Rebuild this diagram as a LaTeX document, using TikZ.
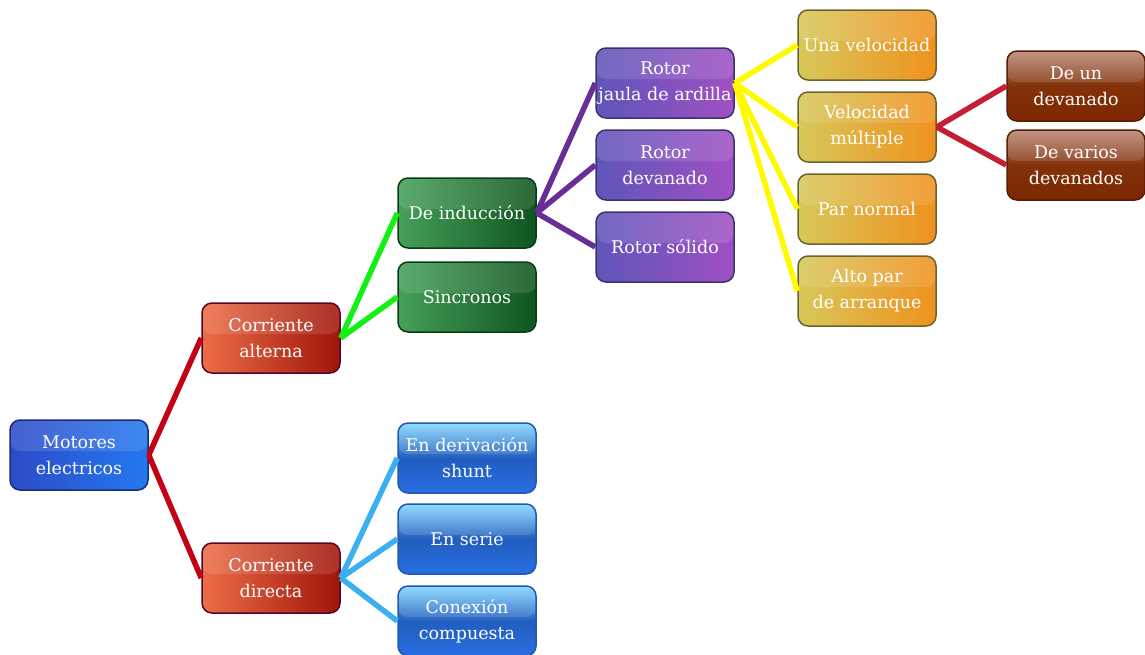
\documentclass[tikz,border=0pt]{standalone}
\usepackage{fontspec}
\setmainfont{DejaVu Serif}
\usepackage{xcolor}
\usetikzlibrary{calc}

\definecolor{rootL}{RGB}{45,75,200}
\definecolor{rootR}{RGB}{35,120,240}
\definecolor{acdcL}{RGB}{236,110,70}
\definecolor{acdcR}{RGB}{160,20,10}
\definecolor{greenL}{RGB}{70,160,90}
\definecolor{greenR}{RGB}{15,85,30}
\definecolor{skyT}{RGB}{130,215,255}
\definecolor{skyB}{RGB}{40,110,225}
\definecolor{violL}{RGB}{95,85,185}
\definecolor{violR}{RGB}{160,80,195}
\definecolor{goldL}{RGB}{215,200,90}
\definecolor{goldR}{RGB}{240,145,30}
\definecolor{brownT}{RGB}{185,135,115}
\definecolor{brownB}{RGB}{125,40,0}
\definecolor{lnroot}{RGB}{195,0,20}
\definecolor{lngreen}{RGB}{20,240,20}
\definecolor{lnsky}{RGB}{60,175,240}
\definecolor{lnviol}{RGB}{105,45,150}
\definecolor{lnyellow}{RGB}{255,250,0}
\definecolor{lncrim}{RGB}{195,30,50}

\begin{document}
\begin{tikzpicture}[x=1pt,y=-1pt,
    box/.style={rectangle,rounded corners=10pt,minimum width=138pt,minimum height=70pt,
                inner sep=1pt,align=center,text=white,line width=1.5pt,
                font=\fontsize{17.5}{26}\selectfont,
                path picture={\fill[white,opacity=0.12]
                  (path picture bounding box.north west) rectangle
                  ($(path picture bounding box.east)+(0,4pt)$);}},
    rootbox/.style={box,left color=rootL,right color=rootR,draw=rootL!60!black},
    acdcbox/.style={box,left color=acdcL,right color=acdcR,draw=acdcR!50!violet!60!black},
    greenbox/.style={box,left color=greenL,right color=greenR,draw=greenR!70!black},
    skybox/.style={box,top color=skyT,bottom color=skyB,middle color=skyB!85!black,draw=skyB!80!black},
    violbox/.style={box,left color=violL,right color=violR,draw=violL!60!black},
    goldbox/.style={box,left color=goldL,right color=goldR,draw=goldL!50!black},
    brownbox/.style={box,top color=brownT,bottom color=brownB,middle color=brownB!90!brownT,draw=brownB!70!black},
    link/.style={line width=5.5pt},
  ]
  \useasboundingbox (0,0) rectangle (1145,654);

  \node[rootbox]  (motores)  at (79,455)  {Motores\\electricos};
  \node[acdcbox]  (alterna)  at (271,338) {Corriente\\alterna};
  \node[acdcbox]  (directa)  at (271,578) {Corriente\\directa};

  \node[greenbox] (induccion) at (467,213) {De inducción};
  \node[greenbox] (sincronos) at (467,297) {Sincronos};

  \node[skybox]   (shunt)     at (467,458) {En derivación\\shunt};
  \node[skybox]   (serie)     at (467,539) {En serie};
  \node[skybox]   (compuesta) at (467,621) {Conexión\\compuesta};

  \node[violbox]  (jaula)    at (665,83)  {Rotor\\jaula de ardilla};
  \node[violbox]  (devanado) at (665,165) {Rotor\\devanado};
  \node[violbox]  (solido)   at (665,247) {Rotor sólido};

  \node[goldbox]  (una)      at (867,45)  {Una velocidad};
  \node[goldbox]  (multiple) at (867,127) {Velocidad\\múltiple};
  \node[goldbox]  (normal)   at (867,209) {Par normal};
  \node[goldbox]  (alto)     at (867,291) {Alto par\\de arranque};

  \node[brownbox] (undev)    at (1076,86)  {De un\\devanado};
  \node[brownbox] (variosdev) at (1076,165) {De varios\\devanados};

  \foreach \a/\b in {motores/alterna,motores/directa}
    \draw[link,lnroot] (\a.east) -- (\b.west);
  \foreach \b in {induccion,sincronos}
    \draw[link,lngreen] (alterna.east) -- (\b.west);
  \foreach \b in {shunt,serie,compuesta}
    \draw[link,lnsky] (directa.east) -- (\b.west);
  \foreach \b in {jaula,devanado,solido}
    \draw[link,lnviol] (induccion.east) -- (\b.west);
  \foreach \b in {una,multiple,normal,alto}
    \draw[link,lnyellow] (jaula.east) -- (\b.west);
  \foreach \b in {undev,variosdev}
    \draw[link,lncrim] (multiple.east) -- (\b.west);
\end{tikzpicture}
\end{document}
